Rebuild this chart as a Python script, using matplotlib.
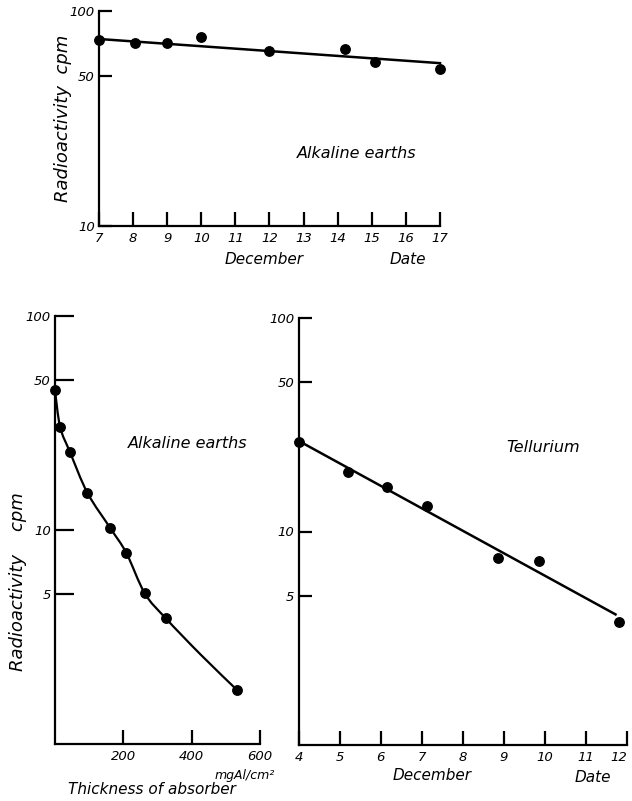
import matplotlib.pyplot as plt
import numpy as np
from matplotlib.path import Path
from matplotlib.patches import PathPatch

W, H = 632, 801

# top panel: alkaline earths decay
top_days = [7, 8.05, 9, 10, 12, 14.2, 15.1, 17]
top_cpm = [73.3, 70.8, 70.8, 75.5, 65.3, 66.5, 58.1, 53.6]
top_fit_days = [7, 17]
top_fit_cpm = [74.1, 57.2]
top_xticks = [7, 8, 9, 10, 11, 12, 13, 14, 15, 16, 17]

# bottom left: absorption curve
abs_thick = [0, 15, 44, 95, 162, 209, 263, 324, 534]
abs_cpm = [45, 30.3, 23.1, 14.9, 10.2, 7.8, 5.05, 3.87, 1.78]
# hand drawn curve, knots
abs_curve_x = [0, 15, 44, 95, 162, 209, 263, 324, 426, 534]
abs_curve_y = [45, 30.3, 23.1, 14.9, 10.2, 7.8, 5.05, 3.87, 2.62, 1.78]
abs_xticks = [200, 400, 600]

# bottom right: tellurium decay
te_days = [4.0, 5.2, 6.15, 7.12, 8.86, 9.85, 11.8]
te_cpm = [26.3, 18.9, 16.1, 13.2, 7.5, 7.3, 3.77]
te_fit_days = [4.0, 11.72]
te_fit_cpm = [26.6, 4.09]
te_xticks = [4, 5, 6, 7, 8, 9, 10, 11, 12]

plt.rcParams['font.family'] = 'DejaVu Sans'
plt.rcParams['font.style'] = 'italic'

fig = plt.figure(figsize=(W / 100, H / 100), dpi=100)


def box(x0, x1, y0, y1):
    # pixel box -> figure fraction [left, bottom, width, height]
    return [x0 / W, 1 - y1 / H, (x1 - x0) / W, (y1 - y0) / H]


def ftext(x, y, s, **kw):
    kw.setdefault('fontsize', 10)
    kw.setdefault('ha', 'center')
    kw.setdefault('va', 'center')
    fig.text(x / W, 1 - y / H, s, style='italic', **kw)


def style_axes(ax):
    for side in ['top', 'right']:
        ax.spines[side].set_visible(False)
    for side in ['left', 'bottom']:
        ax.spines[side].set_linewidth(1.6)
    ax.set_yscale('log')
    ax.minorticks_off()
    ax.tick_params(direction='in', width=1.6, labelsize=9.5)
    ax.tick_params(axis='x', length=10, pad=4)
    ax.tick_params(axis='y', length=9, pad=3)


def smooth_curve(ax, xs, ys, **kw):
    # catmull-rom through the knots (x linear, y log), drawn as bezier path
    p = np.column_stack([xs, np.log10(ys)])
    verts = [p[0]]
    codes = [Path.MOVETO]
    for i in range(len(p) - 1):
        p0 = p[i - 1] if i > 0 else p[i]
        p3 = p[i + 2] if i + 2 < len(p) else p[i + 1]
        c1 = p[i] + (p[i + 1] - p0) / 6
        c2 = p[i + 1] - (p3 - p[i]) / 6
        verts += [c1, c2, p[i + 1]]
        codes += [Path.CURVE4] * 3
    verts = np.array(verts)
    verts[:, 1] = 10 ** verts[:, 1]
    ax.add_patch(PathPatch(Path(verts, codes), fill=False, transform=ax.transData,
                           clip_on=False, **kw))


mk = dict(marker='o', ms=6.8, color='black', ls='none', clip_on=False, zorder=3)

# ---- top panel
ax1 = fig.add_axes(box(99, 440, 11, 226))
style_axes(ax1)
ax1.plot(top_fit_days, top_fit_cpm, color='black', lw=1.8, clip_on=False)
ax1.plot(top_days, top_cpm, **mk)
ax1.set_xlim(7, 17)
ax1.set_ylim(10, 100)
ax1.set_xticks(top_xticks)
ax1.set_xticklabels([str(t) for t in top_xticks])
ax1.set_yticks([10, 50, 100])
ax1.set_yticklabels(['10', '50', '100'])
ftext(63, 118, 'Radioactivity  cpm', fontsize=13, rotation=90)
ftext(357, 154, 'Alkaline earths', fontsize=11.5)
ftext(264, 259, 'December', fontsize=11)
ftext(408, 259, 'Date', fontsize=11)

# ---- bottom left
ax2 = fig.add_axes(box(55, 260, 316, 744))
style_axes(ax2)
ax2.set_xlim(0, 600)
ax2.set_ylim(1, 100)
smooth_curve(ax2, abs_curve_x, abs_curve_y, lw=1.6, edgecolor='black')
ax2.plot(abs_thick, abs_cpm, **mk)
ax2.set_xticks(abs_xticks)
ax2.set_xticklabels([str(t) for t in abs_xticks])
ax2.tick_params(axis='y', length=14)
ax2.set_yticks([5, 10, 50, 100])
ax2.set_yticklabels(['5', '10', '50', '100'])
ftext(18, 582, 'Radioactivity    cpm', fontsize=13, rotation=90)
ftext(188, 444, 'Alkaline earths', fontsize=11.5)
ftext(245, 776, 'mgAl/cm²', fontsize=9)
ftext(152, 789, 'Thickness of absorber', fontsize=11)

# ---- bottom right
ax3 = fig.add_axes(box(298.5, 627, 318, 745))
style_axes(ax3)
ax3.plot(te_fit_days, te_fit_cpm, color='black', lw=1.8, clip_on=False)
ax3.plot(te_days, te_cpm, **mk)
ax3.set_xlim(4, 12)
ax3.set_ylim(1, 100)
ax3.set_xticks(te_xticks)
ax3.set_xticklabels([str(t) for t in te_xticks])
ax3.get_xticklabels()[-1].set_horizontalalignment('right')
ax3.set_yticks([5, 10, 50, 100])
ax3.set_yticklabels(['5', '10', '50', '100'])
ftext(543, 447, 'Tellurium', fontsize=11.5)
ftext(432, 775, 'December', fontsize=11)
ftext(593, 778, 'Date', fontsize=11)

fig.savefig('out.png', dpi=100)
